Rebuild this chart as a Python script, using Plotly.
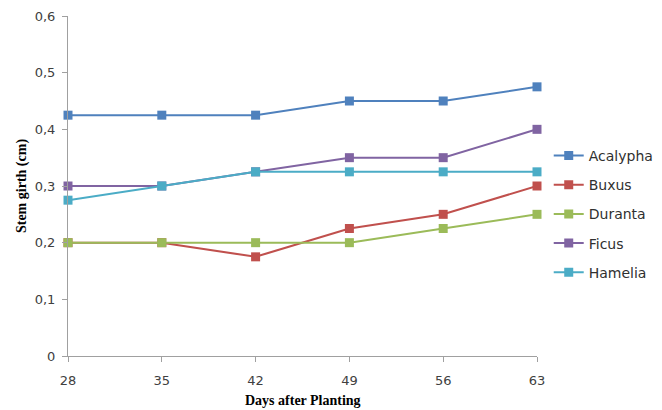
import plotly.graph_objects as go

days = [28, 35, 42, 49, 56, 63]
acalypha = [0.425, 0.425, 0.425, 0.45, 0.45, 0.475]
buxus = [0.2, 0.2, 0.175, 0.225, 0.25, 0.3]
duranta = [0.2, 0.2, 0.2, 0.2, 0.225, 0.25]
ficus = [0.3, 0.3, 0.325, 0.35, 0.35, 0.4]
hamelia = [0.275, 0.3, 0.325, 0.325, 0.325, 0.325]

series = [
    ("Acalypha", acalypha, "#4F81BD"),
    ("Buxus", buxus, "#C0504D"),
    ("Duranta", duranta, "#9BBB59"),
    ("Ficus", ficus, "#8064A2"),
    ("Hamelia", hamelia, "#4BACC6"),
]

fig = go.Figure()
for name, vals, col in series:
    fig.add_trace(go.Scatter(
        x=days, y=vals, name=name, mode="lines+markers",
        line=dict(color=col, width=2),
        marker=dict(symbol="square", size=9, color=col),
        cliponaxis=False, legendgroup=name,
    ))

axis_font = dict(family="DejaVu Sans", size=13, color="#404040")
fig.update_layout(
    width=654, height=402,
    margin=dict(l=60, r=125, t=8, b=54, autoexpand=False),
    paper_bgcolor="white", plot_bgcolor="white",
    separators=",.",
    showlegend=True,
    legend=dict(x=1.025, xanchor="left", y=0.418, yanchor="middle",
                font=dict(family="DejaVu Sans", size=14, color="#303030"),
                traceorder="grouped", tracegroupgap=8,
                itemwidth=30, bgcolor="rgba(0,0,0,0)"),
    xaxis=dict(range=[28, 63], tickvals=days, showgrid=False, zeroline=False,
               showline=True, linecolor="#a0a0a0", linewidth=1,
               ticks="outside", ticklen=5, tickcolor="#a0a0a0",
               tickfont=axis_font, automargin=False, ticklabelstandoff=7),
    yaxis=dict(range=[0, 0.6], dtick=0.1, tick0=0, showgrid=False, zeroline=False,
               showline=True, linecolor="#a0a0a0", linewidth=1,
               ticks="outside", ticklen=5, tickcolor="#a0a0a0",
               tickfont=axis_font, automargin=False, ticklabelstandoff=4),
    annotations=[
        dict(text="<b>Days after Planting</b>", xref="paper", yref="paper",
             x=0.5, y=-0.13, xanchor="center", yanchor="middle", showarrow=False,
             font=dict(family="Liberation Serif", size=14, color="black")),
        dict(text="<b>Stem girth (cm)</b>", xref="paper", yref="paper",
             x=-0.098, y=0.5, xanchor="center", yanchor="middle", showarrow=False,
             textangle=-90,
             font=dict(family="Liberation Serif", size=14, color="black")),
    ],
)
fig.write_html("out.html")
